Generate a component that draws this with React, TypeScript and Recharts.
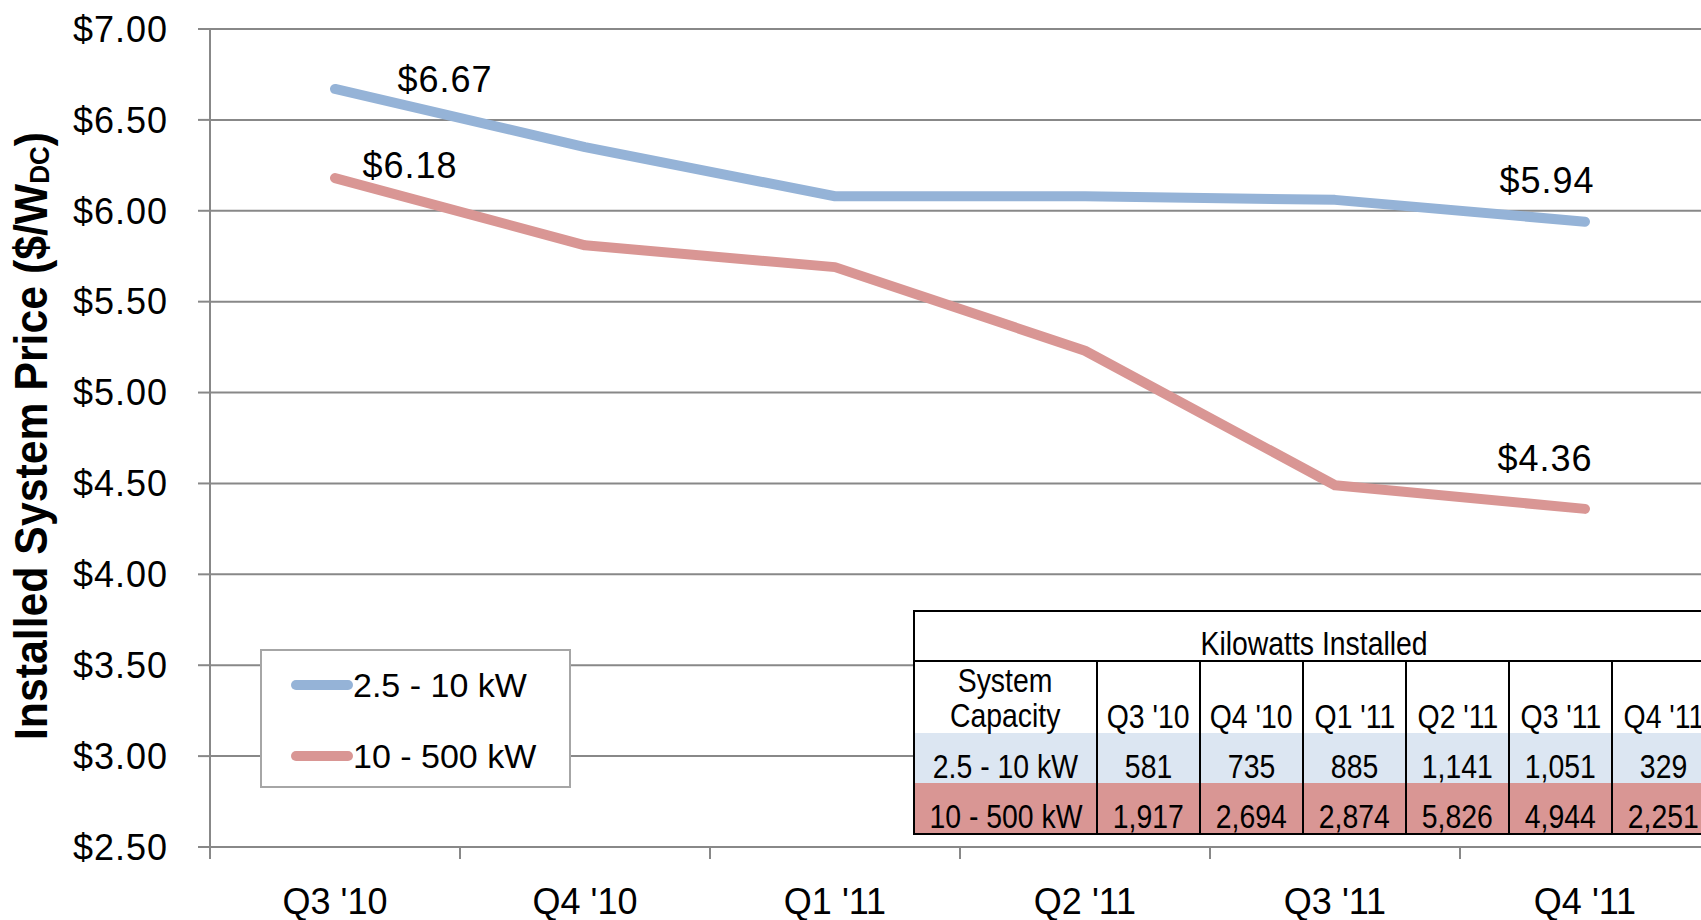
import { LineChart, Line, XAxis, YAxis, CartesianGrid, Legend, LabelList } from 'recharts';

const quarters = ["Q3 '10", "Q4 '10", "Q1 '11", "Q2 '11", "Q3 '11", "Q4 '11"];
const seriesNames = ['2.5 - 10 kW', '10 - 500 kW'];
const priceSmall = [6.67, 6.35, 6.08, 6.08, 6.06, 5.94];
const priceLarge = [6.18, 5.81, 5.69, 5.23, 4.49, 4.36];
const kwSmall = [581, 735, 885, 1141, 1051, 329];
const kwLarge = [1917, 2694, 2874, 5826, 4944, 2251];
const priceTicks = [2.5, 3, 3.5, 4, 4.5, 5, 5.5, 6, 6.5, 7];

const BLUE = '#95B3D7';
const RED = '#D99694';
const BLUE_ROW = '#DCE6F2';
const GRID = '#888888';
const FONT = "'Liberation Sans', Arial, sans-serif";

const CHART_W = 1720;
const CHART_H = 920;
const AXIS_W = 210;
const PLOT_W = CHART_W - AXIS_W - 10;
const HALF_BAND = PLOT_W / quarters.length / 2;

const data = quarters.map((q, i) => ({ quarter: q, small: priceSmall[i], large: priceLarge[i] }));

const money = (v: number) => `$${v.toFixed(2)}`;

// category label centred in the band, tick mark on the band's left edge
const QuarterTick = (props: any) => {
  const { x, y, payload } = props;
  const edge = x - HALF_BAND;
  return (
    <g>
      <line x1={edge} x2={edge} y1={y} y2={y + 12} stroke={GRID} strokeWidth={2} />
      <text x={x} y={y + 54} textAnchor="middle" dominantBaseline="central" fontSize={36} fill="#000">
        {payload.value}
      </text>
    </g>
  );
};

const AxisTitle = (props: any) => {
  const vb = props.viewBox || { y: 29, height: 818 };
  const cx = 31;
  const cy = vb.y + vb.height / 2 - 2;
  return (
    <text
      transform={`translate(${cx} ${cy}) rotate(-90) scale(0.93 1)`}
      textAnchor="middle"
      dominantBaseline="central"
      fontSize={46}
      fontWeight="bold"
      fill="#000"
    >
      Installed System Price ($/W
      <tspan fontSize={28} dy={9}>DC</tspan>
      <tspan dy={-9}>)</tspan>
    </text>
  );
};

// only the first and last points carry a price label
const endLabels = (first: [number, number], last: [number, number]) => (props: any) => {
  const { x, y, value, index } = props;
  let off: [number, number] | null = null;
  if (index === 0) off = first;
  if (index === quarters.length - 1) off = last;
  if (!off) return null;
  return (
    <text x={x + off[0]} y={y + off[1]} textAnchor="middle" fontSize={36} letterSpacing={1} fill="#000">
      {money(Number(value))}
    </text>
  );
};

const LegendBox = (props: any) => {
  const items = [...(props.payload || [])].sort(
    (a: any, b: any) => seriesNames.indexOf(a.value) - seriesNames.indexOf(b.value)
  );
  return (
    <div
      style={{
        width: 311,
        height: 139,
        boxSizing: 'border-box',
        border: '2px solid #A6A6A6',
        background: '#fff',
        position: 'relative',
        fontFamily: FONT,
      }}
    >
      {items.map((p: any, i: number) => (
        <div
          key={p.value}
          style={{ position: 'absolute', left: 29, top: 12 + i * 71, height: 44, display: 'flex', alignItems: 'center' }}
        >
          <span style={{ display: 'inline-block', width: 62, height: 10, borderRadius: 5, background: p.color }} />
          <span style={{ fontSize: 34, color: '#000' }}>{p.value}</span>
        </div>
      ))}
    </div>
  );
};

// table text is set condensed
const Narrow = ({ children }: { children: any }) => (
  <span style={{ display: 'inline-block', transform: 'scaleX(0.86)', transformOrigin: 'center' }}>{children}</span>
);

const cell = (extra: any = {}) => ({
  borderLeft: '2px solid #000',
  textAlign: 'center' as const,
  verticalAlign: 'bottom' as const,
  padding: 0,
  lineHeight: '32px',
  whiteSpace: 'nowrap' as const,
  overflow: 'visible',
  ...extra,
});

const KwTable = () => (
  <table
    style={{
      position: 'absolute',
      left: 913,
      top: 610,
      width: 801,
      tableLayout: 'fixed',
      borderCollapse: 'collapse',
      border: '2px solid #000',
      fontFamily: FONT,
      fontSize: 33,
      color: '#000',
      background: '#fff',
    }}
  >
    <colgroup>
      <col style={{ width: 183 }} />
      {quarters.map((q) => (
        <col key={q} style={{ width: 103 }} />
      ))}
    </colgroup>
    <tbody>
      <tr style={{ height: 50, borderBottom: '2px solid #000' }}>
        <td colSpan={quarters.length + 1} style={cell({ borderLeft: 'none' })}>
          <Narrow>Kilowatts Installed</Narrow>
        </td>
      </tr>
      <tr style={{ height: 72 }}>
        <td style={cell({ borderLeft: 'none', lineHeight: '35px' })}>
          <Narrow>System</Narrow>
          <br />
          <Narrow>Capacity</Narrow>
        </td>
        {quarters.map((q) => (
          <td key={q} style={cell()}>
            <Narrow>{q}</Narrow>
          </td>
        ))}
      </tr>
      <tr style={{ height: 50, background: BLUE_ROW }}>
        <td style={cell({ borderLeft: 'none' })}>
          <Narrow>{seriesNames[0]}</Narrow>
        </td>
        {kwSmall.map((v, i) => (
          <td key={i} style={cell()}>
            <Narrow>{v.toLocaleString('en-US')}</Narrow>
          </td>
        ))}
      </tr>
      <tr style={{ height: 51, background: RED }}>
        <td style={cell({ borderLeft: 'none' })}>
          <Narrow>{seriesNames[1]}</Narrow>
        </td>
        {kwLarge.map((v, i) => (
          <td key={i} style={cell()}>
            <Narrow>{v.toLocaleString('en-US')}</Narrow>
          </td>
        ))}
      </tr>
    </tbody>
  </table>
);

export default function App() {
  return (
    <div
      style={{
        position: 'absolute',
        left: 0,
        top: 0,
        width: 1701,
        height: 920,
        overflow: 'hidden',
        background: '#fff',
        fontFamily: FONT,
      }}
    >
      <LineChart width={CHART_W} height={CHART_H} data={data} margin={{ top: 29, right: 10, bottom: 0, left: 0 }}>
        <CartesianGrid vertical={false} stroke={GRID} strokeWidth={2} />
        <XAxis
          dataKey="quarter"
          height={73}
          padding={{ left: HALF_BAND, right: HALF_BAND }}
          tickLine={false}
          tickSize={0}
          tickMargin={0}
          axisLine={{ stroke: GRID, strokeWidth: 2 }}
          tick={<QuarterTick />}
          interval={0}
        />
        <YAxis
          width={AXIS_W}
          domain={[2.5, 7]}
          ticks={priceTicks}
          tickFormatter={money}
          tick={{ fontSize: 36, fill: '#000', letterSpacing: 1 }}
          tickSize={12}
          tickMargin={30}
          tickLine={{ stroke: GRID, strokeWidth: 2 }}
          axisLine={{ stroke: GRID, strokeWidth: 2 }}
          label={<AxisTitle />}
        />
        <Legend
          layout="vertical"
          align="center"
          verticalAlign="middle"
          wrapperStyle={{ left: 260, top: 649 }}
          content={<LegendBox />}
        />
        <Line
          dataKey="small"
          name={seriesNames[0]}
          stroke={BLUE}
          strokeWidth={10}
          strokeLinecap="round"
          strokeLinejoin="round"
          dot={false}
          isAnimationActive={false}
        >
          <LabelList dataKey="small" content={endLabels([110, 3], [-38, -29])} />
        </Line>
        <Line
          dataKey="large"
          name={seriesNames[1]}
          stroke={RED}
          strokeWidth={10}
          strokeLinecap="round"
          strokeLinejoin="round"
          dot={false}
          isAnimationActive={false}
        >
          <LabelList dataKey="large" content={endLabels([75, 0], [-40, -38])} />
        </Line>
      </LineChart>
      <KwTable />
    </div>
  );
}
